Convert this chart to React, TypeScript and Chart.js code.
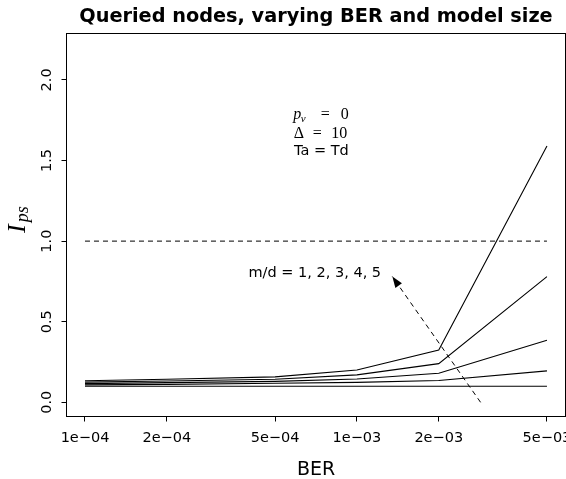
import React, { useEffect, useRef } from 'react';
import { Chart, registerables } from 'chart.js';

Chart.register(...registerables);

// ---- data ----
const berValues = [1e-4, 2e-4, 5e-4, 1e-3, 2e-3, 5e-3];
const ipsMd1 = [0.1, 0.1, 0.1, 0.1, 0.1, 0.1];
const ipsMd2 = [0.108, 0.111, 0.118, 0.124, 0.135, 0.195];
const ipsMd3 = [0.116, 0.122, 0.13, 0.145, 0.18, 0.385];
const ipsMd4 = [0.125, 0.132, 0.143, 0.17, 0.24, 0.78];
const ipsMd5 = [0.134, 0.143, 0.158, 0.2, 0.325, 1.59];
const seriesList = [ipsMd1, ipsMd2, ipsMd3, ipsMd4, ipsMd5];
const referenceLevel = [1.0, 1.0];
const referenceBer = [1e-4, 5e-3];
const arrowBer = [2.85e-3, 1.35e-3];
const arrowIps = [0.0, 0.78];

const xTickValues = [1e-4, 2e-4, 5e-4, 1e-3, 2e-3, 5e-3];
const xTickLabels = ['1e\u221204', '2e\u221204', '5e\u221204', '1e\u221203', '2e\u221203', '5e\u221203'];
const yTickValues = [0, 0.5, 1, 1.5, 2];
const yTickLabels = ['0.0', '0.5', '1.0', '1.5', '2.0'];
const xRange = [8.55e-5, 5.85e-3];
const yRange = [-0.088, 2.288];

const titleText = 'Queried nodes, varying BER and model size';
const xTitle = 'BER';
const mdLabel = 'm/d = 1, 2, 3, 4, 5';
const mdAnchor = [7.0e-4, 0.81];
const paramsAnchorX = 7.4e-4;
const paramsAnchorY = [1.77, 1.67, 1.57];

const SANS = '"DejaVu Sans"';
const SERIF = '"Liberation Serif"';

const annotPlugin = {
  id: 'annot',
  afterDatasetsDraw(chart: any) {
    const { ctx, scales } = chart;
    const x = scales.x, y = scales.y;
    const fx = x.getPixelForValue(arrowBer[0]);
    const fy = y.getPixelForValue(arrowIps[0]);
    const tx = x.getPixelForValue(arrowBer[1]);
    const ty = y.getPixelForValue(arrowIps[1]);
    const dx = tx - fx, dy = ty - fy;
    const len = Math.hypot(dx, dy);
    const ux = dx / len, uy = dy / len;
    const L = 11, W = 4;
    const bx = tx - ux * L, by = ty - uy * L;
    ctx.save();
    ctx.fillStyle = '#000';
    ctx.beginPath();
    ctx.moveTo(tx, ty);
    ctx.lineTo(bx - uy * W, by + ux * W);
    ctx.lineTo(bx + uy * W, by - ux * W);
    ctx.closePath();
    ctx.fill();
    ctx.restore();
  },
  afterDraw(chart: any) {
    const { ctx, chartArea: a, scales } = chart;
    const x = scales.x, y = scales.y;
    ctx.save();
    ctx.strokeStyle = '#000';
    ctx.lineWidth = 1;
    ctx.strokeRect(a.left, a.top, a.right - a.left, a.bottom - a.top);
    ctx.fillStyle = '#000';
    ctx.textBaseline = 'alphabetic';
    ctx.textAlign = 'center';
    const midX = (a.left + a.right) / 2;
    ctx.font = `bold 19.3px ${SANS}`;
    ctx.fillText(titleText, midX, 22);
    ctx.font = `19px ${SANS}`;
    ctx.fillText(xTitle, midX, 474.5);

    // y axis label I_ps
    ctx.save();
    ctx.translate(25, 233);
    ctx.rotate(-Math.PI / 2);
    ctx.textAlign = 'left';
    ctx.font = `italic 26px ${SERIF}`;
    ctx.fillText('I', 0, 0);
    const iw = ctx.measureText('I').width;
    ctx.font = `italic 18px ${SERIF}`;
    ctx.fillText('ps', iw + 2, 3);
    ctx.restore();

    // parameters block
    const cx = x.getPixelForValue(paramsAnchorX);
    let by = y.getPixelForValue(paramsAnchorY[0]) + 2.5;
    ctx.textAlign = 'left';
    ctx.font = `italic 16px ${SERIF}`;
    ctx.fillText('p', cx - 28, by);
    ctx.font = `italic 11px ${SERIF}`;
    ctx.fillText('v', cx - 20.5, by + 3);
    ctx.textAlign = 'center';
    ctx.font = `16px ${SERIF}`;
    ctx.fillText('=', cx + 4, by);
    ctx.fillText('0', cx + 23.5, by);

    by = y.getPixelForValue(paramsAnchorY[1]) + 5;
    ctx.textAlign = 'left';
    ctx.font = `16px ${SERIF}`;
    ctx.fillText('\u0394', cx - 27.7, by);
    ctx.textAlign = 'center';
    ctx.fillText('=', cx - 4, by);
    ctx.fillText('10', cx + 18, by);

    by = y.getPixelForValue(paramsAnchorY[2]) + 5.3;
    ctx.font = `14.5px ${SANS}`;
    ctx.fillText('Ta = Td', cx, by);

    ctx.fillText(mdLabel, x.getPixelForValue(mdAnchor[0]), y.getPixelForValue(mdAnchor[1]) + 5.3);
    ctx.restore();
  },
};

export default function App() {
  const ref = useRef<HTMLCanvasElement | null>(null);
  useEffect(() => {
    document.body.style.margin = '0';
    const canvas = ref.current;
    if (!canvas) return;
    const datasets: any[] = seriesList.map((vals, i) => ({
      label: `m/d = ${i + 1}`,
      data: berValues.map((b, j) => ({ x: b, y: vals[j] })),
      borderColor: '#000',
      borderWidth: 1.1,
      pointRadius: 0,
      tension: 0,
      fill: false,
    }));
    datasets.push({
      label: 'reference',
      data: referenceBer.map((b, j) => ({ x: b, y: referenceLevel[j] })),
      borderColor: '#000',
      borderWidth: 1,
      borderDash: [5, 4],
      pointRadius: 0,
      fill: false,
    });
    datasets.push({
      label: 'arrow',
      data: arrowBer.map((b, j) => ({ x: b, y: arrowIps[j] })),
      borderColor: '#000',
      borderWidth: 1,
      borderDash: [5, 4],
      pointRadius: 0,
      fill: false,
    });
    const tickFont = { family: SANS, size: 14.5 };
    const grid = { display: true, drawOnChartArea: false, drawTicks: true, tickLength: 5, color: '#000', lineWidth: 1 };
    const chart = new Chart(canvas, {
      type: 'line',
      data: { datasets },
      options: {
        responsive: false,
        animation: false,
        devicePixelRatio: 1,
        events: [],
        layout: { padding: { top: 33.5, left: 0, right: 0.5, bottom: 0 } },
        plugins: { legend: { display: false }, title: { display: false }, tooltip: { enabled: false } },
        scales: {
          x: {
            type: 'logarithmic',
            position: 'bottom',
            min: xRange[0],
            max: xRange[1],
            afterBuildTicks: (s: any) => { s.ticks = xTickValues.map((v) => ({ value: v })); },
            afterFit: (s: any) => { s.height = 62.5; s.paddingLeft = 0; s.paddingRight = 0; },
            ticks: {
              callback: (_v: any, i: number) => xTickLabels[i],
              autoSkip: false, maxRotation: 0, minRotation: 0, padding: 8, color: '#000', font: tickFont,
            },
            grid,
            border: { display: false },
          },
          y: {
            type: 'linear',
            min: yRange[0],
            max: yRange[1],
            afterBuildTicks: (s: any) => { s.ticks = yTickValues.map((v) => ({ value: v })); },
            afterFit: (s: any) => { s.width = 66.5; s.paddingTop = 0; s.paddingBottom = 0; },
            ticks: {
              callback: (_v: any, i: number) => yTickLabels[i],
              autoSkip: false, minRotation: 90, maxRotation: 90, crossAlign: 'center', padding: 3, color: '#000', font: tickFont,
            },
            grid,
            border: { display: false },
          },
        },
      } as any,
      plugins: [annotPlugin],
    });
    return () => chart.destroy();
  }, []);
  return <canvas ref={ref} width={566} height={479} style={{ display: 'block' }} />;
}
